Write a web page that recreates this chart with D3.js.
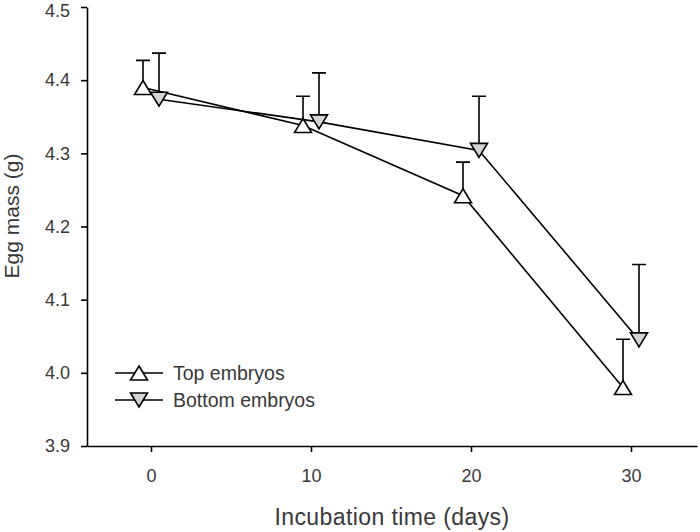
<!DOCTYPE html>
<html>
<head>
<meta charset="utf-8">
<script src="https://cdn.jsdelivr.net/npm/d3@7"></script>
<style>
  body { margin: 0; background: #fff; }
  svg { display: block; font-family: "Liberation Sans", Arial, sans-serif; }
</style>
</head>
<body>
<svg id="chart" width="700" height="532"></svg>
<script>
// Data
const days = [0, 10, 20, 30];
const topMass = [4.390, 4.338, 4.242, 3.980];
const topErr = [0.037, 0.040, 0.046, 0.066];
const bottomMass = [4.374, 4.343, 4.304, 4.045];
const bottomErr = [0.063, 0.067, 0.074, 0.103];
const yTicks = [3.9, 4.0, 4.1, 4.2, 4.3, 4.4, 4.5];
const xTicks = [0, 10, 20, 30];

const series = [
  { name: "Top embryos", mass: topMass, err: topErr, offset: -0.5, dir: "up", fill: "#ffffff" },
  { name: "Bottom embryos", mass: bottomMass, err: bottomErr, offset: 0.5, dir: "down", fill: "#d4d4d4" },
];

const svg = d3.select("#chart");
const margin = { top: 7, right: 3, bottom: 86, left: 87 };
const width = 700 - margin.left - margin.right;
const height = 532 - margin.top - margin.bottom;
const textColor = "#383838";

const g = svg.append("g").attr("transform", `translate(${margin.left},${margin.top})`);

const x = d3.scaleLinear().domain([-4, 34.125]).range([0, width]);
const y = d3.scaleLinear().domain([3.9, 4.5]).range([height, 0]);

// triangle path, bbox centred on the point
const tri = (dir, w = 17, h = 14) => {
  const s = dir === "up" ? 1 : -1;
  return `M0,${-s * h / 2}L${w / 2},${s * h / 2}L${-w / 2},${s * h / 2}Z`;
};

// Axes
const yAxis = g.append("g")
  .call(d3.axisLeft(y).tickValues(yTicks).tickFormat(d3.format(".1f")).tickSize(6).tickSizeOuter(0).tickPadding(11));
const xAxis = g.append("g")
  .attr("transform", `translate(0,${height})`)
  .call(d3.axisBottom(x).tickValues(xTicks).tickSize(6).tickSizeOuter(0).tickPadding(17));

[yAxis, xAxis].forEach((a) => {
  a.select(".domain").attr("stroke", "#000").attr("stroke-width", 1.6);
  a.selectAll(".tick line").attr("stroke", "#000").attr("stroke-width", 1.6);
  a.selectAll("text").attr("fill", textColor).style("font-size", "18px")
    .style("font-family", "Liberation Sans, Arial, sans-serif");
});
// top label sits a little lower so it stays inside the frame
yAxis.selectAll(".tick text").filter((d) => d === 4.5).attr("dy", "0.55em");

// Axis titles
g.append("text")
  .attr("x", width / 2)
  .attr("y", height + 79)
  .attr("text-anchor", "middle")
  .attr("fill", textColor)
  .style("font-size", "23px")
  .style("letter-spacing", "0.4px")
  .text("Incubation time (days)");

svg.append("text")
  .attr("transform", "translate(19,216) rotate(-90)")
  .attr("text-anchor", "middle")
  .attr("fill", textColor)
  .style("font-size", "21px")
  .text("Egg mass (g)");

// Series
series.forEach((s) => {
  const pts = days.map((d, i) => ({ day: d + s.offset, m: s.mass[i], e: s.err[i] }));
  const sg = g.append("g");

  sg.append("path")
    .datum(pts)
    .attr("fill", "none")
    .attr("stroke", "#000")
    .attr("stroke-width", 1.6)
    .attr("d", d3.line().x((p) => x(p.day)).y((p) => y(p.m)));

  // upper error bars
  sg.selectAll(".err")
    .data(pts)
    .join("path")
    .attr("class", "err")
    .attr("fill", "none")
    .attr("stroke", "#000")
    .attr("stroke-width", 1.6)
    .attr("d", (p) => {
      const cx = x(p.day), y0 = y(p.m), y1 = y(p.m + p.e);
      return `M${cx},${y0}V${y1}M${cx - 7},${y1}H${cx + 7}`;
    });

  sg.selectAll(".mark")
    .data(pts)
    .join("path")
    .attr("class", "mark")
    .attr("transform", (p) => `translate(${x(p.day)},${y(p.m)})`)
    .attr("d", tri(s.dir))
    .attr("fill", s.fill)
    .attr("stroke", "#000")
    .attr("stroke-width", 1.6);
});

// Legend
const legend = svg.append("g").attr("transform", "translate(115,373)");
series.forEach((s, i) => {
  const row = legend.append("g").attr("transform", `translate(0,${i * 27})`);
  row.append("line").attr("x1", 0).attr("x2", 48).attr("stroke", "#000").attr("stroke-width", 1.6);
  row.append("path").attr("transform", "translate(24,0)").attr("d", tri(s.dir))
    .attr("fill", s.fill).attr("stroke", "#000").attr("stroke-width", 1.6);
  row.append("text")
    .attr("x", 58)
    .attr("dy", "0.35em")
    .attr("fill", textColor)
    .style("font-size", "19.5px")
    .text(s.name);
});
</script>
</body>
</html>
